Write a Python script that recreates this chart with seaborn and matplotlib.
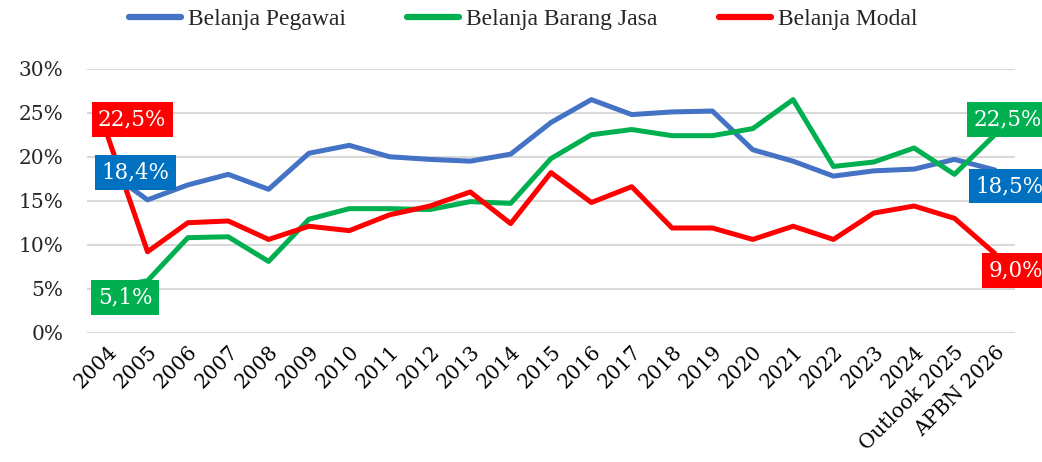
import matplotlib
matplotlib.use("Agg")
import matplotlib.pyplot as plt
import seaborn as sns
import pandas as pd
from matplotlib.ticker import PercentFormatter

years = ["2004", "2005", "2006", "2007", "2008", "2009", "2010", "2011", "2012",
         "2013", "2014", "2015", "2016", "2017", "2018", "2019", "2020", "2021",
         "2022", "2023", "2024", "Outlook 2025", "APBN 2026"]

pegawai = [18.4, 15.1, 16.8, 18.0, 16.3, 20.4, 21.3, 20.0, 19.7, 19.5, 20.3, 23.9,
           26.5, 24.8, 25.1, 25.2, 20.8, 19.5, 17.8, 18.4, 18.6, 19.7, 18.5]
barang_jasa = [5.1, 5.9, 10.8, 10.9, 8.1, 12.9, 14.1, 14.1, 14.0, 14.9, 14.7, 19.8,
               22.5, 23.1, 22.4, 22.4, 23.2, 26.5, 18.9, 19.4, 21.0, 18.0, 22.5]
modal = [22.5, 9.2, 12.5, 12.7, 10.6, 12.1, 11.6, 13.4, 14.4, 16.0, 12.4, 18.2,
         14.8, 16.6, 11.9, 11.9, 10.6, 12.1, 10.6, 13.6, 14.4, 13.0, 9.0]

series_names = ["Belanja Pegawai", "Belanja Barang Jasa", "Belanja Modal"]
line_colors = ["#4472C4", "#00B050", "#FF0000"]
box_colors = ["#0070C0", "#00B050", "#FF0000"]

df = pd.concat([
    pd.DataFrame({"tahun": years, "nilai": vals, "jenis": name})
    for name, vals in zip(series_names, [pegawai, barang_jasa, modal])
])

sns.set_theme(style="white")
plt.rcParams["font.family"] = ["DejaVu Serif"]

fig = plt.figure(figsize=(10.42, 4.62), dpi=100)
ax = fig.add_axes([0.0835, 0.280, 0.8906, 0.571])

sns.lineplot(data=df, x="tahun", y="nilai", hue="jenis", palette=line_colors,
             sort=False, linewidth=3.6, ax=ax, zorder=3)
for ln in ax.lines:
    ln.set_clip_on(False)
    ln.set_solid_joinstyle("round")

ax.set_xlim(-0.5, len(years) - 0.5)
ax.set_ylim(0, 30)
ax.set_yticks(range(0, 31, 5))
ax.yaxis.set_major_formatter(PercentFormatter(xmax=100, decimals=0))
ax.grid(axis="y", color="#D9D9D9", linewidth=1.5)
ax.grid(axis="x", visible=False)
for s in ax.spines.values():
    s.set_visible(False)
ax.set_xlabel("")
ax.set_ylabel("")
ax.tick_params(axis="y", length=0, pad=17, labelsize=14.5, labelcolor="#262626")
ax.tick_params(axis="x", length=0, pad=7, labelsize=14.5, labelcolor="#000000")
plt.setp(ax.get_xticklabels(), rotation=45, ha="right", va="top",
         rotation_mode="anchor")

# data labels at first and last point
first_offsets = [(28, -2), (18, -10), (25, 15)]
last_offsets = [(15, -16), (13, 15), (21, -17)]
all_vals = [pegawai, barang_jasa, modal]
for vals, bc, fo, lo in zip(all_vals, box_colors, first_offsets, last_offsets):
    for idx, off in [(0, fo), (len(years) - 1, lo)]:
        txt = f"{vals[idx]:.1f}".replace(".", ",") + "%"
        ax.annotate(txt, xy=(idx, vals[idx]), xytext=off, textcoords="offset pixels",
                    ha="center", va="center", fontsize=15.5, color="white",
                    bbox=dict(boxstyle="square,pad=0.3", fc=bc, ec="none"),
                    zorder=5, annotation_clip=False)

leg = ax.legend(loc="upper center", bbox_to_anchor=(0.47, 1.31), ncol=3,
                frameon=False, handlelength=2.2, columnspacing=2.6,
                handletextpad=0.3, prop={"family": "Liberation Serif", "size": 17})
for h in leg.get_lines():
    h.set_linewidth(4.5)

fig.savefig("out.png", dpi=100)
